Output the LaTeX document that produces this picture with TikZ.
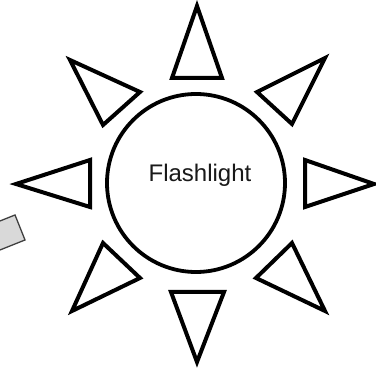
\documentclass[tikz,border=0pt]{standalone}
\usepackage{fontspec}
\setmainfont{Liberation Sans}
\begin{document}
\begin{tikzpicture}[x=1pt,y=-1pt,
  ray/.style={draw=black, line width=4pt, line join=miter, fill=white},
  body/.style={draw=black!75, line width=1.3pt, fill=black!15, line join=miter}]
\useasboundingbox (0,0) rectangle (376,371);
% flashlight body at left edge
\draw[body] (15,215) -- (25,240) -- (-35,264) -- (-45,239) -- cycle;
% rays
\draw[ray] (197,6) -- (222,78) -- (172,78) -- cycle;
\draw[ray] (197,362) -- (224,292) -- (171,292) -- cycle;
\draw[ray] (16,184) -- (90,160) -- (90,207) -- cycle;
\draw[ray] (374,184) -- (305,160) -- (305,207) -- cycle;
\draw[ray] (70,60) -- (140,92) -- (103,125) -- cycle;
\draw[ray] (325,58) -- (257,92) -- (292,124) -- cycle;
\draw[ray] (72,311) -- (103,243) -- (140,278) -- cycle;
\draw[ray] (325,311) -- (292,243) -- (256,278) -- cycle;
% sun
\node[circle, draw=black, line width=3.8pt, minimum size=178pt, inner sep=0pt, fill=white] (sun) at (196,183) {};
\node[anchor=base, text=black!90, inner sep=0pt] (label) at (200,182) {\fontsize{24}{24}\selectfont Flashlight};
\end{tikzpicture}
\end{document}
